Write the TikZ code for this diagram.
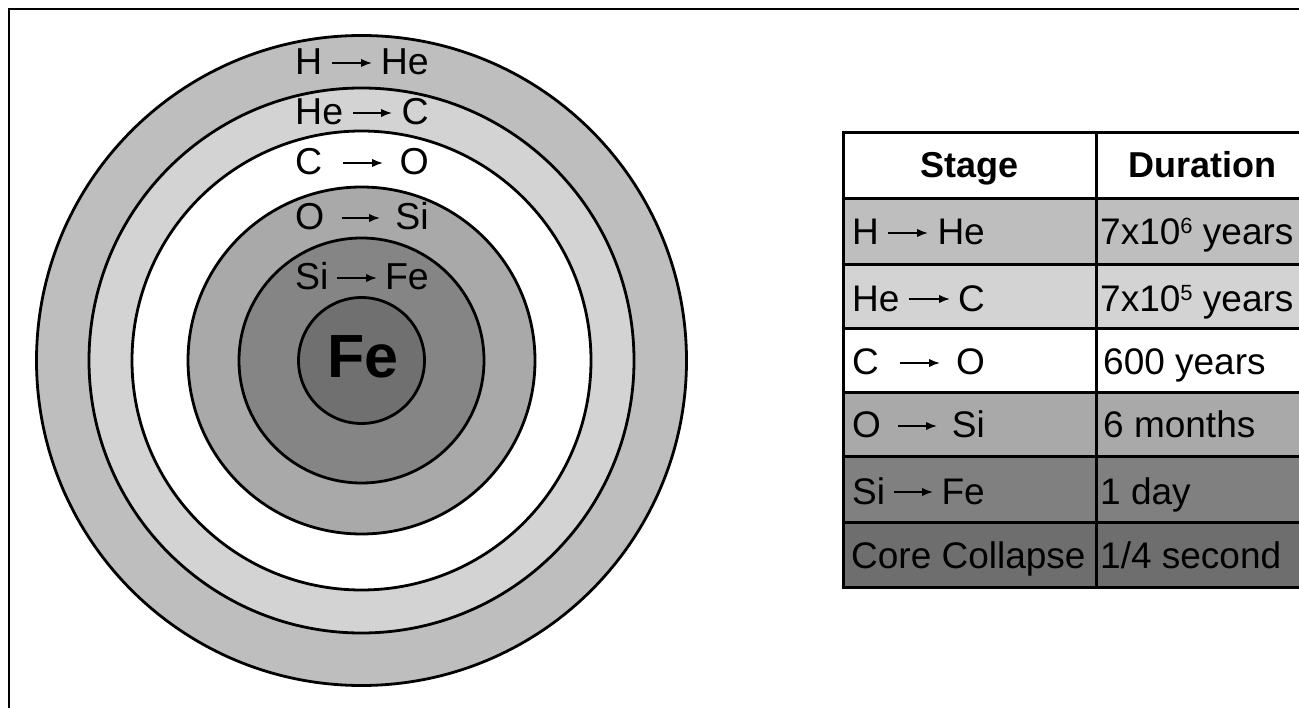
\documentclass[tikz,border=0pt]{standalone}
\usepackage{fontspec}
\setmainfont{Liberation Sans}
\usetikzlibrary{arrows.meta}
\definecolor{gH}{HTML}{BEBEBE}
\definecolor{gHe}{HTML}{D3D3D3}
\definecolor{gO}{HTML}{A9A9A9}
\definecolor{gSi}{HTML}{858585}
\definecolor{gFe}{HTML}{707070}
\definecolor{gSiT}{HTML}{808080}
\definecolor{gCC}{HTML}{6E6E6E}
\newcommand\supnum[1]{\raisebox{0.32em}{\fontsize{22}{22}\selectfont #1}}
\tikzset{
  ring/.style={draw=black, line width=2.8pt},
  lbl/.style={inner sep=0pt, font=\fontsize{37.5}{40}\selectfont},
  felbl/.style={inner sep=0pt, font=\bfseries\fontsize{61}{64}\selectfont},
  tab/.style={inner sep=0pt, font=\fontsize{37}{40}\selectfont},
  hdr/.style={inner sep=0pt, font=\bfseries\fontsize{36}{40}\selectfont},
  arr/.style={line width=1.8pt, -{Latex[length=11pt,width=8.5pt]}},
  tarr/.style={line width=1.8pt, -{Latex[length=11pt,width=8.5pt]}},
  grid/.style={draw=black, line width=3pt},
}
\begin{document}
\begin{tikzpicture}[x=1pt,y=-1pt]
\useasboundingbox (0,0) rectangle (1299,708);
\clip (0,0) rectangle (1299,708);
\fill[white] (0,0) rectangle (1299,708);
% frame
\draw[line width=2.6pt] (9,730) -- (9,9) -- (1330,9);
% star shells
\coordinate (ctr) at (361.5,360.5);
\filldraw[ring, fill=gH]  (ctr) circle (325pt);
\filldraw[ring, fill=gHe] (ctr) circle (272.5pt);
\filldraw[ring, fill=white] (ctr) circle (229.5pt);
\filldraw[ring, fill=gO]  (ctr) circle (173.5pt);
\filldraw[ring, fill=gSi] (ctr) circle (122.5pt);
\filldraw[ring, fill=gFe] (ctr) circle (63pt);
% shell labels
\node[lbl, anchor=base west] (s1L) at (295,75) {H};
\node[lbl, anchor=base east] (s1R) at (429,75) {He};
\draw[arr] (332,63) -- (372,63);
\node[lbl, anchor=base west] (s2L) at (295,125) {He};
\node[lbl, anchor=base east] (s2R) at (429,125) {C};
\draw[arr] (353,113) -- (392,113);
\node[lbl, anchor=base west] (s3L) at (295,175) {C};
\node[lbl, anchor=base east] (s3R) at (429,175) {O};
\draw[arr] (343,163) -- (383,163);
\node[lbl, anchor=base west] (s4L) at (295,230) {O};
\node[lbl, anchor=base east] (s4R) at (429,230) {Si};
\draw[arr] (342,218) -- (380,218);
\node[lbl, anchor=base west] (s5L) at (295,290) {Si};
\node[lbl, anchor=base east] (s5R) at (429,290) {Fe};
\draw[arr] (337,278) -- (377,278);
\node[felbl, anchor=base] (fe) at (363,378) {Fe};
% table fills
\fill[white] (843,133) rectangle (1309,199);
\fill[gH]  (843,199) rectangle (1309,265);
\fill[gHe] (843,265) rectangle (1309,329);
\fill[white] (843,329) rectangle (1309,393);
\fill[gO]  (843,393) rectangle (1309,457);
\fill[gSiT] (843,457) rectangle (1309,522);
\fill[gCC] (843,522) rectangle (1309,587);
% table grid
\draw[grid] (843,133) rectangle (1309,587);
\foreach \yy in {199,265,329,393,457,522} \draw[grid] (843,\yy) -- (1309,\yy);
\draw[grid] (1096,133) -- (1096,587);
% header
\node[hdr, anchor=base] (h1) at (969.5,178) {Stage};
\node[hdr, anchor=base] (h2) at (1202.5,178) {Duration};
% stage column
\node[tab, anchor=base west] (t1L) at (852,245) {H};
\node[tab, anchor=base east] (t1R) at (985,245) {He};
\draw[tarr] (888,233) -- (928,233);
\node[tab, anchor=base west] (t2L) at (852,312) {He};
\node[tab, anchor=base east] (t2R) at (985,312) {C};
\draw[tarr] (909,299) -- (950,299);
\node[tab, anchor=base west] (t3L) at (852,375) {C};
\node[tab, anchor=base east] (t3R) at (985,375) {O};
\draw[tarr] (900,363) -- (940,363);
\node[tab, anchor=base west] (t4L) at (852,438) {O};
\node[tab, anchor=base east] (t4R) at (985,438) {Si};
\draw[tarr] (898,426) -- (937,426);
\node[tab, anchor=base west] (t5L) at (852,504) {Si};
\node[tab, anchor=base east] (t5R) at (985,504) {Fe};
\draw[tarr] (894,492) -- (933,492);
\node[tab, anchor=base west] (t6) at (851,568) {Core Collapse};
% duration column
\node[tab, anchor=base west] (d1) at (1100,245) {7x10\supnum{6} years};
\node[tab, anchor=base west] (d2) at (1100,312) {7x10\supnum{5} years};
\node[tab, anchor=base west] (d3) at (1103,375) {600 years};
\node[tab, anchor=base west] (d4) at (1103,438) {6 months};
\node[tab, anchor=base west] (d5) at (1100,504) {1 day};
\node[tab, anchor=base west] (d6) at (1100,568) {1/4 second};
\end{tikzpicture}
\end{document}
